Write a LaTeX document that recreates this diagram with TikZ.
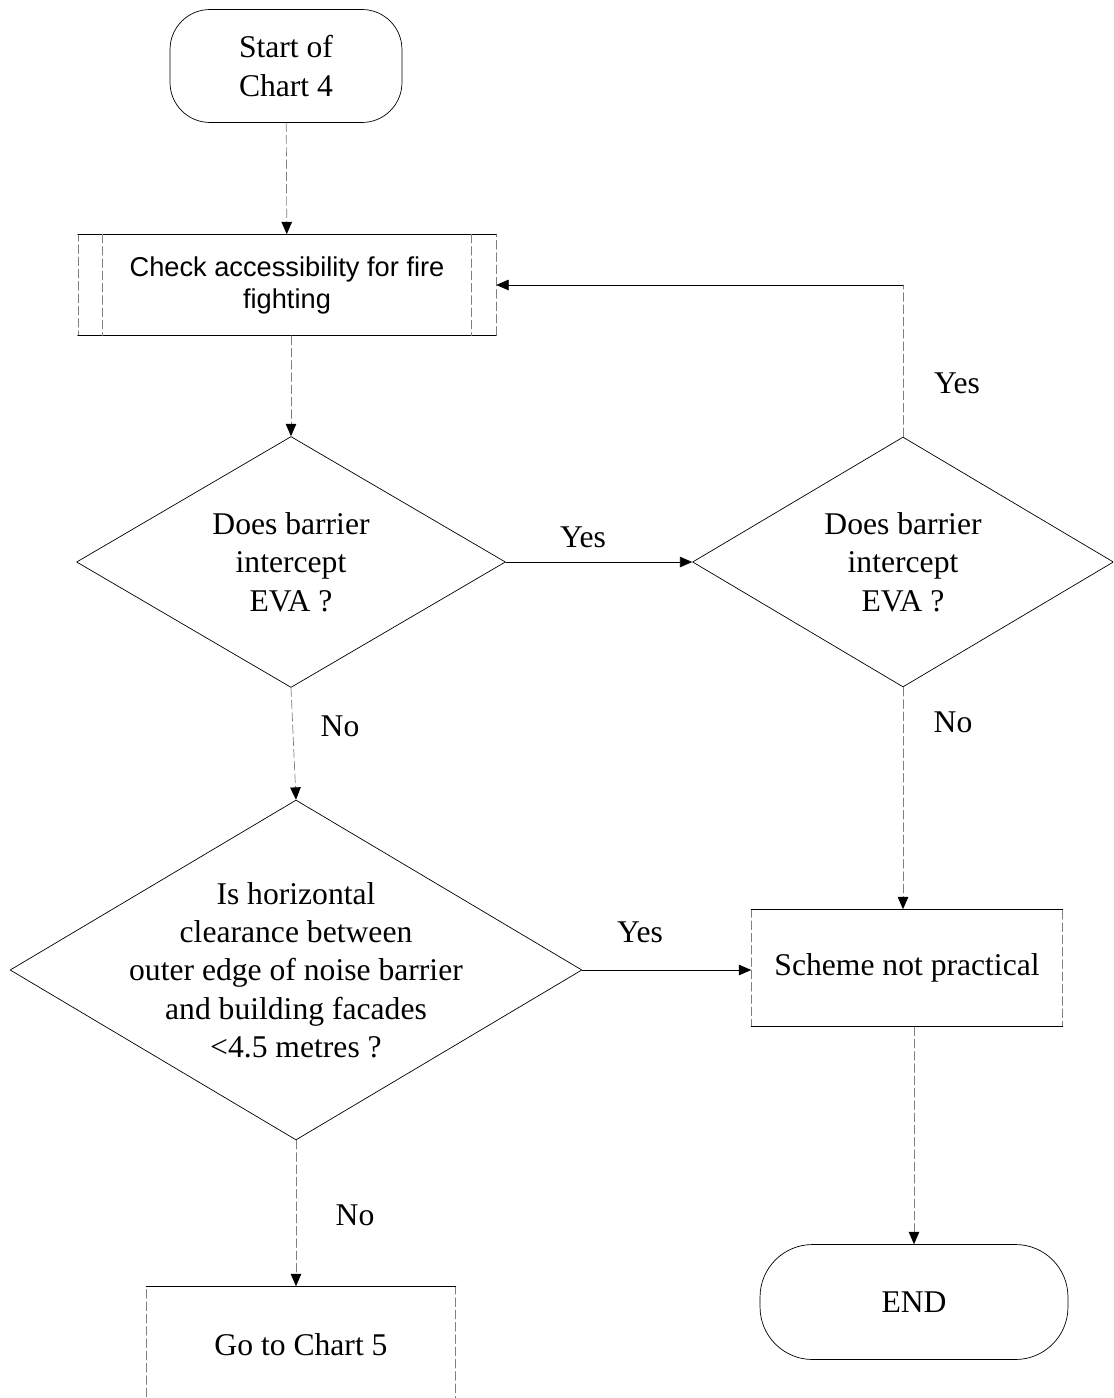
\documentclass[tikz,border=0pt]{standalone}
\usepackage{fontspec}
\setmainfont{Liberation Serif}
\setsansfont{Liberation Sans}
\usetikzlibrary{shapes.geometric, arrows.meta}

\tikzset{
  faint/.style={draw=black!50, dash pattern=on 5pt off 2pt},
  link/.style={->, thin},
  vlink/.style={link, faint},
  terminal/.style={draw, thin, inner sep=0pt, align=center},
  procbox/.style={faint, thin, inner sep=0pt, align=center},
  decision/.style={diamond, draw, thin, inner sep=0pt},
  answer/.style={inner sep=0pt}
}

\begin{document}
\begin{tikzpicture}[x=0.02cm, y=-0.02cm, line cap=round, line join=round,
    >={Triangle[length=7pt, width=6pt, color=black]},
    every node/.style={font=\fontsize{18}{21.8}\selectfont}]

    % page frame
    \clip (0,0) rectangle (1113,1398);

    % Terminals
    \node[terminal, rounded corners=0.8cm, minimum width=4.64cm, minimum height=2.26cm] (start) at (286,66) {Start of\\Chart 4};
    \node[terminal, rounded corners=1.05cm, minimum width=6.16cm, minimum height=2.3cm] (end) at (914,1302) {END};

    % Process boxes
    \node[procbox, minimum width=8.36cm, minimum height=2.02cm,
          font=\sffamily\fontsize{15.5}{18.2}\selectfont] (check) at (287,285) {Check accessibility for fire\\fighting};
    \node[procbox, minimum width=6.22cm, minimum height=2.34cm] (scheme) at (907,968) {Scheme not practical};
    \node[procbox, minimum width=6.18cm, minimum height=2.34cm] (chart5) at (301,1345) {Go to Chart 5};
    \foreach \b in {check, scheme, chart5} {
        \draw[thin] (\b.north west) -- (\b.north east);
        \draw[thin] (\b.south west) -- (\b.south east);
    }
    \draw[faint, thin] ([xshift=0.5cm]check.north west) -- ([xshift=0.5cm]check.south west);
    \draw[faint, thin] ([xshift=-0.5cm]check.north east) -- ([xshift=-0.5cm]check.south east);

    % Decisions
    \node[decision, minimum width=8.58cm, minimum height=5.02cm,
          label={[name=d1txt, align=center]center:Does barrier\\intercept\\EVA ?}] (d1) at (291,562) {};
    \node[decision, minimum width=8.42cm, minimum height=5.0cm,
          label={[name=d2txt, align=center]center:Does barrier\\intercept\\EVA ?}] (d2) at (903,562) {};
    \node[decision, minimum width=11.44cm, minimum height=6.8cm,
          label={[name=d3txt, align=center]center:Is horizontal\\clearance between\\outer edge of noise barrier\\and building facades\\<4.5 metres ?}] (d3) at (296,970) {};

    % Connectors
    \draw[vlink] (start) -- (check);
    \draw[vlink] (check.south -| d1.north) -- (d1.north);
    \draw[link] (d1.east) -- (d2.west);
    \draw[faint, thin] (d2.north) -- (d2.north |- check.east);
    \draw[link] (d2.north |- check.east) -- (check.east);
    \draw[vlink] (d1.south) -- (d3.north);
    \draw[vlink] (d2.south) -- (d2.south |- scheme.north);
    \draw[link] (d3.east) -- (d3.east -| scheme.west);
    \draw[vlink] (scheme.south -| end.north) -- (end.north);
    \draw[vlink] (d3.south) -- (d3.south |- chart5.north);

    % Answers
    \node[answer] (yes1) at (583,537) {Yes};
    \node[answer] (yes2) at (957,383) {Yes};
    \node[answer] (no1) at (340,726) {No};
    \node[answer] (no2) at (953,722) {No};
    \node[answer] (yes3) at (640,932) {Yes};
    \node[answer] (no3) at (355,1215) {No};
\end{tikzpicture}
\end{document}
